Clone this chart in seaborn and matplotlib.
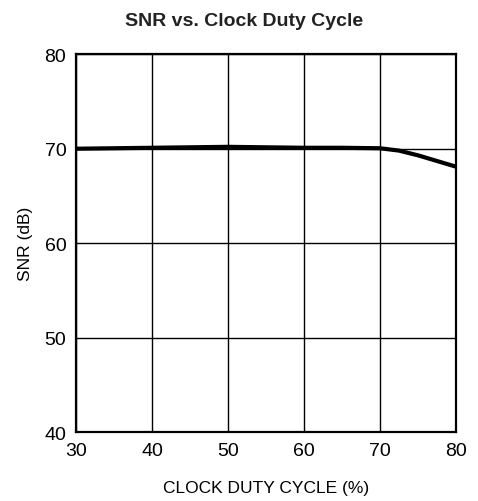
import matplotlib
matplotlib.use("Agg")
import matplotlib.pyplot as plt
import seaborn as sns
import pandas as pd

duty_cycle = [30, 35, 40, 45, 50, 55, 60, 65, 70, 72.5, 75, 77.5, 80]
snr_db = [70.0, 70.05, 70.1, 70.15, 70.2, 70.15, 70.1, 70.1, 70.05, 69.8, 69.3, 68.7, 68.1]
x_ticks = [30, 40, 50, 60, 70, 80]
y_ticks = [40, 50, 60, 70, 80]

sns.set_theme(style="white")
plt.rcParams['font.family'] = ['Liberation Sans', 'DejaVu Sans']

df = pd.DataFrame({"duty": duty_cycle, "snr": snr_db})

fig = plt.figure(figsize=(4.78, 5.02), dpi=100)
ax = fig.add_axes([0.159, 0.137, 0.795, 0.753])
sns.lineplot(data=df, x="duty", y="snr", ax=ax, color="black", linewidth=3)

ax.set_xlim(30, 80)
ax.set_ylim(40, 80)
ax.set_xticks(x_ticks)
ax.set_yticks(y_ticks)
ax.grid(True, color="black", linewidth=1)
for s in ax.spines.values():
    s.set_color("black")
    s.set_linewidth(1.6)
ax.tick_params(axis="both", labelsize=14, colors="black", length=0, pad=7)
ax.set_xlabel("CLOCK DUTY CYCLE (%)", fontsize=12.5, color="black", labelpad=15)
ax.set_ylabel("SNR (dB)", fontsize=12.5, color="black", labelpad=8)
fig.suptitle("SNR vs. Clock Duty Cycle", fontsize=14, fontweight="bold", color="#222222", y=0.975, x=0.51)

fig.savefig("out.png", dpi=100)
